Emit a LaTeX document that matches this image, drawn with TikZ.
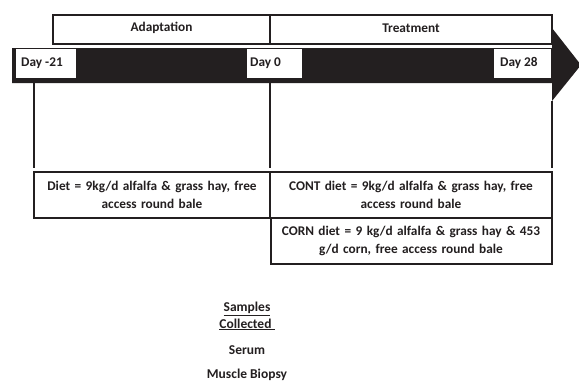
\documentclass[tikz,border=0pt]{standalone}
\usepackage{fontspec}
\setmainfont{Carlito}
\definecolor{ink}{HTML}{231F20}
\begin{document}
\begin{tikzpicture}[x=1pt,y=-1pt,
  box/.style={draw=ink,line width=1.4pt,fill=white},
  lbl/.style={font=\bfseries\fontsize{13.3}{18}\selectfont,text=ink,align=center,inner sep=0pt},
  day/.style={fill=white,inner sep=0pt,font=\bfseries\fontsize{13.3}{16}\selectfont,text=ink},
  vline/.style={draw=ink,line width=1.4pt}]
\useasboundingbox (0,0) rectangle (579,381);
% arrow band
\fill[ink] (12,48) -- (552,48) -- (552,28) -- (581,65) -- (552,101) -- (552,83) -- (12,83) -- cycle;
% header boxes
\draw[box] (53,15) rectangle (270,44);
\draw[box] (270,15) rectangle (552,44);
\node[lbl] (adapt) at (161.5,28) {Adaptation};
\node[lbl] (treat) at (411,28) {Treatment};
% day labels
\fill[white] (16,49) rectangle (76,78);
\node[day,anchor=west] (d21) at (21,63) {Day -21};
\fill[white] (247,49) rectangle (302,78);
\node[day,anchor=west] (d0) at (250,63) {Day 0};
\fill[white] (494,49) rectangle (551,78);
\node[day,anchor=west] (d28) at (500,63) {Day 28};
% vertical lines
\coordinate (v1t) at (34,83); \coordinate (v1b) at (34,168);
\coordinate (v2t) at (270,83); \coordinate (v2b) at (270,168);
\coordinate (v3t) at (552,101); \coordinate (v3b) at (552,168);
\draw[vline] (v1t) -- (v1b);
\draw[vline] (v2t) -- (v2b);
\draw[vline] (v3t) -- (v3b);
% diet boxes
\draw[box] (34,172) rectangle (270,218);
\draw[box] (270,172) rectangle (552,218);
\draw[box] (271,218) rectangle (552,264);
\node[lbl,text width=230pt] (diet) at (152,195) {Diet = 9kg/d alfalfa \& grass hay, free\\access round bale};
\node[lbl,text width=280pt] (cont) at (411,195) {CONT diet = 9kg/d alfalfa \& grass hay, free\\access round bale};
\node[lbl,text width=280pt] (corn) at (411,241) {CORN diet = 9 kg/d alfalfa \& grass hay \& 453\\g/d corn, free access round bale};
% samples
\node[lbl,font=\bfseries\fontsize{13.5}{17}\selectfont] (samp) at (247,316) {\underline{Samples}\\\underline{Collected\ }};
\node[lbl,font=\bfseries\fontsize{13.5}{15}\selectfont] (serum) at (247,350) {Serum};
\node[lbl,font=\bfseries\fontsize{13.5}{15}\selectfont] (mb) at (247,375) {Muscle Biopsy};
\end{tikzpicture}
\end{document}
